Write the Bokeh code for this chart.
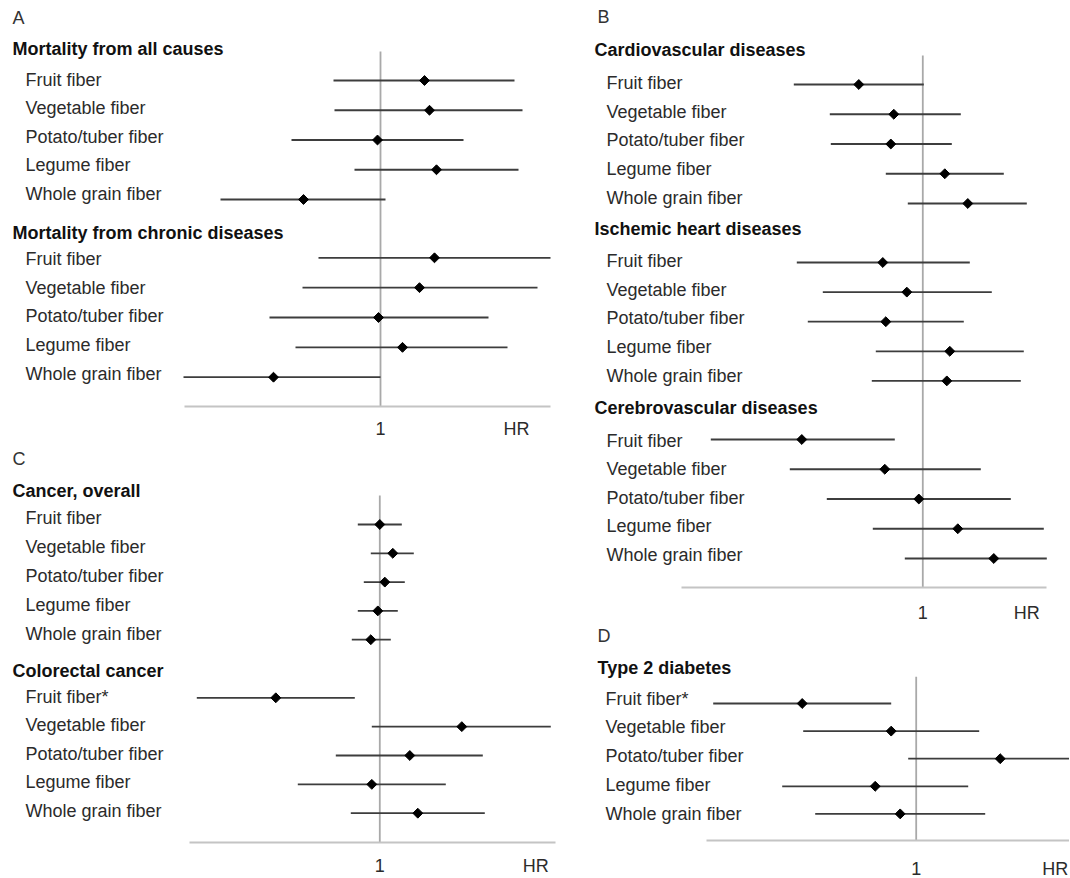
import math
from bokeh.plotting import figure
from bokeh.models import Range1d, FixedTicker
from bokeh.layouts import row, column
from bokeh.embed import file_html
from bokeh.resources import INLINE
from bokeh.core.properties import value

# ---------------- data (hazard ratios) ----------------
fiber_labels = ["Fruit fiber", "Vegetable fiber", "Potato/tuber fiber", "Legume fiber", "Whole grain fiber"]
fiber_labels_star = ["Fruit fiber*", "Vegetable fiber", "Potato/tuber fiber", "Legume fiber", "Whole grain fiber"]

# Panel A
all_causes_hr = [1.044, 1.049, 0.997, 1.056, 0.923]
all_causes_lo = [0.953, 0.954, 0.911, 0.974, 0.840]
all_causes_hi = [1.134, 1.142, 1.083, 1.138, 1.005]
chronic_hr = [1.054, 1.039, 0.998, 1.022, 0.893]
chronic_lo = [0.938, 0.922, 0.889, 0.915, 0.803]
chronic_hi = [1.170, 1.157, 1.108, 1.127, 1.000]

# Panel B
cvd_hr = [0.936, 0.971, 0.968, 1.022, 1.045]
cvd_lo = [0.871, 0.907, 0.908, 0.963, 0.985]
cvd_hi = [1.001, 1.038, 1.029, 1.081, 1.104]
ihd_hr = [0.960, 0.984, 0.963, 1.027, 1.024]
ihd_lo = [0.874, 0.900, 0.885, 0.953, 0.949]
ihd_hi = [1.047, 1.069, 1.041, 1.101, 1.098]
cevd_hr = [0.879, 0.962, 0.996, 1.035, 1.071]
cevd_lo = [0.788, 0.867, 0.904, 0.950, 0.982]
cevd_hi = [0.972, 1.058, 1.088, 1.121, 1.124]

# Panel C
cancer_hr = [1.000, 1.013, 1.005, 0.998, 0.991]
cancer_lo = [0.978, 0.991, 0.984, 0.978, 0.972]
cancer_hi = [1.022, 1.034, 1.025, 1.018, 1.011]
crc_hr = [0.896, 1.082, 1.030, 0.992, 1.038]
crc_lo = [0.817, 0.992, 0.956, 0.918, 0.971]
crc_hi = [0.975, 1.171, 1.103, 1.066, 1.105]

# Panel D
t2d_hr = [0.886, 0.975, 1.084, 0.959, 0.984]
t2d_lo = [0.797, 0.887, 0.992, 0.866, 0.899]
t2d_hi = [0.975, 1.063, 1.177, 1.052, 1.069]

# ---------------- styling / layout ----------------
PX_PER_HR = 1000.0
FONT = value("Liberation Sans")
FS = "18px"
REF_COLOR = "#a9a9a9"
AXIS_COLOR = "#c4c4c4"
CI_COLOR = "#3d3d3d"
LABEL_COLOR = "#2b2b2b"
TITLE_COLOR = "#111111"

LAYOUT_A = dict(origin=(0, 0), size=(590, 445), axis_y=406, ref_x=380, ref_top=51,
                letter=(12, 17), title_x=12, label_x=25,
                title_y=[48.3, 232], label_y0=[79, 258.3], label_step=[28.6, 28.75],
                line_y0=[80, 257.3], line_step=[29.75, 29.85],
                bounds=(0.804, 1.170), hr_tick=1.136, standoff=12)
LAYOUT_B = dict(origin=(590, 0), size=(479, 622), axis_y=587, ref_x=922.3, ref_top=55,
                letter=(597, 16), title_x=594, label_x=606,
                title_y=[49, 228.3, 407.3], label_y0=[82.3, 260.3, 440], label_step=[28.75, 28.7, 28.6],
                line_y0=[84, 262, 439], line_step=[29.75, 29.6, 29.75],
                bounds=(0.759, 1.124), hr_tick=1.104, standoff=15)
LAYOUT_C = dict(origin=(0, 445), size=(590, 432), axis_y=842, ref_x=379.3, ref_top=495,
                letter=(12, 458), title_x=12, label_x=25,
                title_y=[490, 670], label_y0=[517, 696], label_step=[29, 28.5],
                line_y0=[524, 697.3], line_step=[28.8, 28.85],
                bounds=(0.810, 1.176), hr_tick=1.156, standoff=13)
LAYOUT_D = dict(origin=(590, 622), size=(479, 255), axis_y=837, ref_x=915.7, ref_top=673.3,
                letter=(597, 632), title_x=597, label_x=605,
                title_y=[664.3], label_y0=[695], label_step=[28.75],
                line_y0=[700], line_step=[27.6],
                bounds=(0.790, None), hr_tick=1.139, standoff=18)


def panel(letter, groups, L):
    ox, oy = L["origin"]
    W, H = L["size"]
    FH = int(round(L["axis_y"] - oy))
    ref = L["ref_x"] - ox
    xs = 1 + (0 - ref) / PX_PER_HR
    xe = 1 + (W - ref) / PX_PER_HR
    p = figure(frame_width=W, frame_height=FH, x_range=Range1d(xs, xe), y_range=Range1d(FH, 0),
               y_axis_location=None, toolbar_location=None, output_backend="svg",
               min_border_left=0, min_border_right=0, min_border_top=0, min_border_bottom=H - FH,
               outline_line_color=None, background_fill_color="white", border_fill_color="white")
    p.grid.visible = False
    p.extra_x_ranges = {"px": Range1d(0, W)}

    # reference line at HR = 1
    p.segment(x0=[1.0], y0=[L["ref_top"] - oy], x1=[1.0], y1=[FH],
              line_color=REF_COLOR, line_width=1.8)

    t_x, t_y, t_txt = [], [], []
    l_x, l_y, l_txt = [], [], []
    for gi, (title, labels, hr, lo, hi) in enumerate(groups):
        t_x.append(L["title_x"] - ox)
        t_y.append(L["title_y"][gi] - oy)
        t_txt.append(title)
        ys = [L["line_y0"][gi] - oy + i * L["line_step"][gi] for i in range(len(labels))]
        for i, lab in enumerate(labels):
            l_x.append(L["label_x"] - ox)
            l_y.append(L["label_y0"][gi] - oy + i * L["label_step"][gi])
            l_txt.append(lab)
        p.segment(x0=lo, y0=ys, x1=hi, y1=ys, line_color=CI_COLOR, line_width=1.8)
        p.scatter(x=hr, y=ys, marker="square", angle=math.pi / 4, size=7,
                  fill_color="black", line_color="black")

    p.text(x=[L["letter"][0] - ox], y=[L["letter"][1] - oy], text=[letter], x_range_name="px",
           text_font=FONT, text_font_size=FS, text_color="#333333",
           text_align="left", text_baseline="middle")
    p.text(x=t_x, y=t_y, text=t_txt, x_range_name="px",
           text_font=FONT, text_font_size=FS, text_font_style="bold", text_color=TITLE_COLOR,
           text_align="left", text_baseline="middle")
    p.text(x=l_x, y=l_y, text=l_txt, x_range_name="px",
           text_font=FONT, text_font_size=FS, text_color=LABEL_COLOR,
           text_align="left", text_baseline="middle")

    ax = p.xaxis[0]
    hr_tick = L["hr_tick"]
    ax.ticker = FixedTicker(ticks=[1.0, hr_tick])
    ax.major_label_overrides = {1.0: "1", hr_tick: "HR"}
    b0, b1 = L["bounds"]
    ax.bounds = (b0, b1 if b1 is not None else xe)
    ax.axis_line_color = AXIS_COLOR
    ax.axis_line_width = 2
    ax.major_tick_line_color = None
    ax.minor_tick_line_color = None
    ax.major_tick_out = 0
    ax.major_tick_in = 0
    ax.major_label_standoff = int(L["standoff"])
    ax.major_label_text_font = "Liberation Sans"
    ax.major_label_text_font_size = FS
    ax.major_label_text_color = LABEL_COLOR
    return p


pA = panel("A", [("Mortality from all causes", fiber_labels, all_causes_hr, all_causes_lo, all_causes_hi),
                 ("Mortality from chronic diseases", fiber_labels, chronic_hr, chronic_lo, chronic_hi)],
           LAYOUT_A)
pB = panel("B", [("Cardiovascular diseases", fiber_labels, cvd_hr, cvd_lo, cvd_hi),
                 ("Ischemic heart diseases", fiber_labels, ihd_hr, ihd_lo, ihd_hi),
                 ("Cerebrovascular diseases", fiber_labels, cevd_hr, cevd_lo, cevd_hi)],
           LAYOUT_B)
pC = panel("C", [("Cancer, overall", fiber_labels, cancer_hr, cancer_lo, cancer_hi),
                 ("Colorectal cancer", fiber_labels_star, crc_hr, crc_lo, crc_hi)],
           LAYOUT_C)
pD = panel("D", [("Type 2 diabetes", fiber_labels_star, t2d_hr, t2d_lo, t2d_hi)],
           LAYOUT_D)

layout = row(column(pA, pC), column(pB, pD))
open("out.html", "w").write(file_html(layout, INLINE))
